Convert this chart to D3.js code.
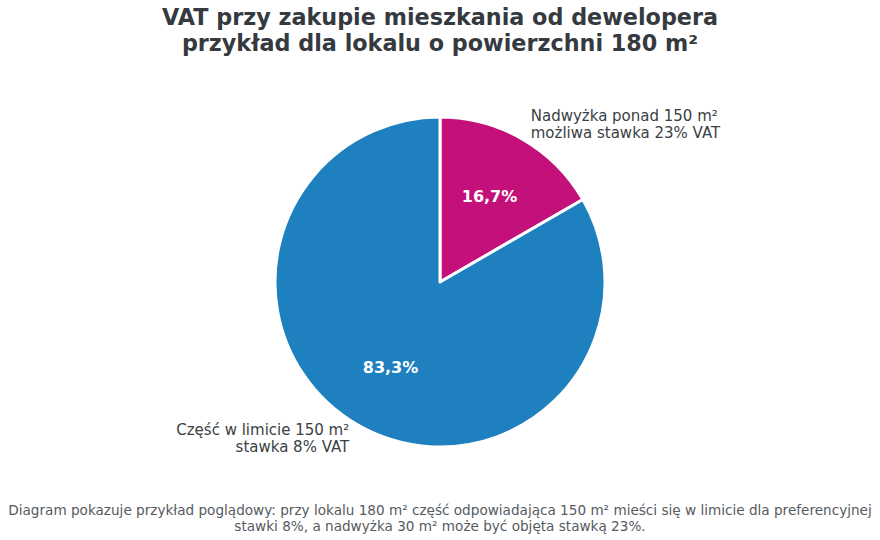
<!DOCTYPE html>
<html>
<head>
<meta charset="utf-8">
<script src="https://cdn.jsdelivr.net/npm/d3@7"></script>
<style>
  body { margin: 0; background: #fff; }
  svg text { font-family: "DejaVu Sans", sans-serif; }
</style>
</head>
<body>
<div id="chart"></div>
<script>
// dane wykresu
const categories = ["Nadwyżka ponad 150 m²", "Część w limicie 150 m²"];
const subLabels = ["możliwa stawka 23% VAT", "stawka 8% VAT"];
const areas = [30, 150];
const colors = ["#c4107a", "#1f80c0"];
const titleLines = ["VAT przy zakupie mieszkania od dewelopera", "przykład dla lokalu o powierzchni 180 m²"];
const noteLines = [
  "Diagram pokazuje przykład poglądowy: przy lokalu 180 m² część odpowiadająca 150 m² mieści się w limicie dla preferencyjnej",
  "stawki 8%, a nadwyżka 30 m² może być objęta stawką 23%."
];

const width = 880, height = 540;
const cx = 440, cy = 282, r = 165;

const svg = d3.select("#chart").append("svg")
    .attr("width", width)
    .attr("height", height);

// tytuł
svg.append("text")
    .attr("x", cx)
    .attr("y", 25)
    .attr("text-anchor", "middle")
    .attr("font-size", "22.3px")
    .attr("font-weight", "bold")
    .attr("fill", "#343a40")
    .selectAll("tspan")
    .data(titleLines)
    .enter()
    .append("tspan")
    .attr("x", cx)
    .attr("dy", (d, i) => i ? 26 : 0)
    .text(d => d);

const total = d3.sum(areas);
const data = areas.map((v, i) => ({ name: categories[i], sub: subLabels[i], value: v, color: colors[i] }));

const pie = d3.pie().sort(null).value(d => d.value);
const arcs = pie(data);

const arc = d3.arc().innerRadius(0).outerRadius(r);
const pctArc = d3.arc().innerRadius(r * 0.6).outerRadius(r * 0.6);
const lblArc = d3.arc().innerRadius(r * 1.1).outerRadius(r * 1.1);

const g = svg.append("g").attr("transform", `translate(${cx},${cy})`);

g.selectAll("path")
    .data(arcs)
    .enter()
    .append("path")
    .attr("d", arc)
    .attr("fill", d => d.data.color)
    .attr("stroke", "#fff")
    .attr("stroke-width", 3)
    .attr("stroke-linejoin", "round");

g.selectAll(".pct")
    .data(arcs)
    .enter()
    .append("text")
    .attr("class", "pct")
    .attr("transform", d => `translate(${pctArc.centroid(d)})`)
    .attr("text-anchor", "middle")
    .attr("dy", "0.35em")
    .attr("font-size", "16px")
    .attr("font-weight", "bold")
    .attr("fill", "#fff")
    .text(d => (d.data.value / total * 100).toFixed(1).replace(".", ",") + "%");

const lbl = g.selectAll(".lbl")
    .data(arcs)
    .enter()
    .append("text")
    .attr("class", "lbl")
    .attr("font-size", "15px")
    .attr("fill", "#3a3f44")
    .attr("text-anchor", d => lblArc.centroid(d)[0] > 0 ? "start" : "end")
    .attr("transform", d => `translate(${lblArc.centroid(d)})`);

lbl.append("tspan")
    .attr("x", 0)
    .attr("y", -4)
    .text(d => d.data.name);
lbl.append("tspan")
    .attr("x", 0)
    .attr("y", 13)
    .text(d => d.data.sub);

// przypis
const note = svg.append("text")
    .attr("text-anchor", "middle")
    .attr("font-size", "13.6px")
    .attr("fill", "#555b61");

note.selectAll("tspan")
    .data(noteLines)
    .enter()
    .append("tspan")
    .attr("x", cx)
    .attr("y", (d, i) => 515 + i * 16)
    .text(d => d);
</script>
</body>
</html>
